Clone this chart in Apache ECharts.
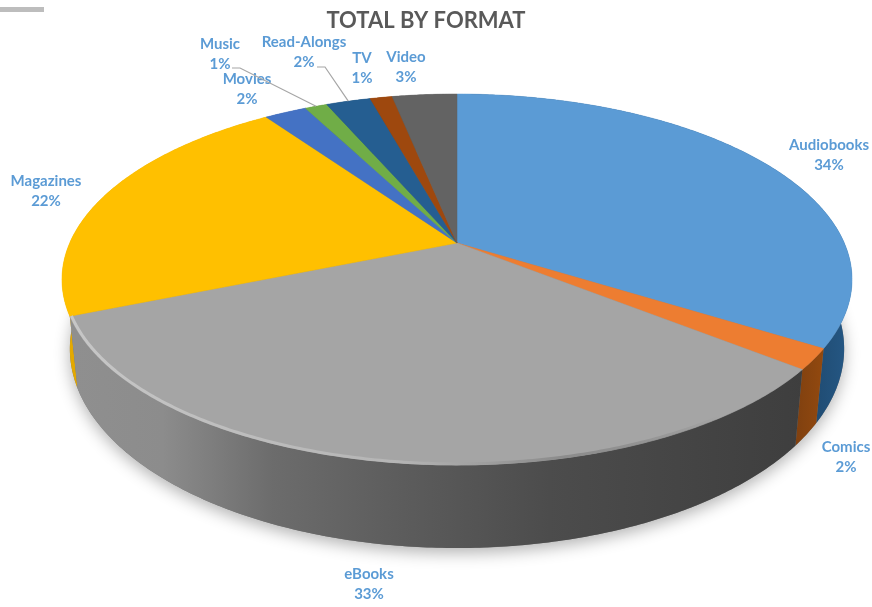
<!DOCTYPE html>
<html>
<head>
<meta charset="utf-8">
<style>html,body{margin:0;padding:0;background:#fff}#c{width:872px;height:607px;filter:blur(0.5px)}</style>
<script src="https://cdn.jsdelivr.net/npm/echarts@6/dist/echarts.min.js"></script>
</head>
<body>
<div id="c"></div>
<script>
const titleText = 'TOTAL BY FORMAT';
const categories = ['Audiobooks','Comics','eBooks','Magazines','Movies','Music','Read-Alongs','TV','Video'];
const values = [33.9,1.8,33.1,21.5,2.1,1.1,2.2,1.1,3.2];

const palette = ['#5b9bd5','#ed7d31','#a5a5a5','#ffc000','#4472c4','#70ad47','#255e91','#9e480e','#636363'];
const total = values.reduce((a,b)=>a+b,0);
const cum = [0]; values.forEach((v,i)=>cum.push(cum[i]+v));
const angleOf = p => p/total*Math.PI*2;

// perspective projection of the pie disc
const CX=457, CY=243, A=387.3, B=178.3, K=0.1968, WX=0.98, WY=1.074, WCY=309.6;
function topPt(t,r){ r=r==null?1:r; const u=r*Math.sin(t), v=r*Math.cos(t), d=1+K*v; return [CX+A*u/d, CY-B*v/d]; }
function bottomPt(t){ const p=topPt(t); return [CX+(p[0]-CX)*WX, WCY+(p[1]-CY)*WY]; }
function arc(fn,a0,a1){ const n=Math.max(2,Math.ceil((a1-a0)/0.01)); const o=[]; for(let i=0;i<=n;i++) o.push(fn(a0+(a1-a0)*i/n)); return o; }
const hGrad = (x0,x1,stops)=>({type:'linear',global:true,x:x0,y:0,x2:x1,y2:0,colorStops:stops.map(s=>({offset:s[0],color:s[1]}))});

const wallFill = [
  hGrad(810,855,[[0,'#1f4a70'],[1,'#265a88']]),
  hGrad(792,820,[[0,'#7d3f10'],[1,'#90480f']]),
  hGrad(75,805,[[0,'#8f8f8f'],[0.12,'#8c8c8c'],[0.27,'#6c6c6c'],[0.45,'#5c5c5c'],[0.65,'#4c4c4c'],[1,'#3e3e3e']]),
  hGrad(60,85,[[0,'#e8ae00'],[1,'#dfa400']]),
  '#2f5597','#507e32','#1b4469','#7a370a','#4a4a4a'
];
const wallOrder = [8,7,6,5,4,3,0,1,2];

function renderShadow(){
  const pts=arc(bottomPt,0,Math.PI*2);
  return {type:'polygon',shape:{points:pts},style:{fill:'#777',shadowBlur:16,shadowColor:'rgba(0,0,0,0.3)',shadowOffsetY:5}};
}
function renderWall(params,api){
  const i=api.value(0), a0=angleOf(cum[i]), a1=angleOf(cum[i+1]);
  const pts=arc(topPt,a0,a1).concat(arc(bottomPt,a0,a1).reverse());
  return {type:'polygon',shape:{points:pts},style:{fill:wallFill[i]}};
}
function renderTop(params,api){
  const i=api.value(0), a0=angleOf(cum[i]), a1=angleOf(cum[i+1]);
  const pts=[[CX,CY]].concat(arc(topPt,a0,a1));
  return {type:'polygon',shape:{points:pts},style:{fill:palette[i],stroke:palette[i],lineWidth:0.5}};
}
function renderBevel(params,api){
  const i=api.value(0);
  if(categories[i]!=='eBooks') return null;
  const a0=angleOf(cum[i]), a1=angleOf(cum[i+1]);
  const pts=arc(t=>topPt(t,0.996),a0,a1);
  return {type:'polyline',shape:{points:pts},style:{fill:null,lineWidth:3,
    stroke:hGrad(75,720,[[0,'#c6c6c6'],[0.5,'#b5b5b5'],[0.75,'#8c8c8c'],[1,'rgba(120,120,120,0)']])}};
}
const labelLayout = {
  'Audiobooks':[829,155],'Comics':[846,457],'eBooks':[369,584],'Magazines':[46,191],
  'Movies':[247,89],'Music':[220,54],'Read-Alongs':[304,52],'TV':[362,68],'Video':[406,67]
};
const leaderLayout = { 'Music':[[232,68],[240,68]], 'Read-Alongs':[[317,67],[325,67]] };
function renderLabel(params,api){
  const i=api.value(0), name=categories[i], c=labelLayout[name];
  const kids=[{type:'text',style:{x:c[0],y:c[1],text:name+'\n'+Math.round(values[i])+'%',align:'center',verticalAlign:'middle',
     fill:'#5b9bd5',font:'bold 15px Lato',lineHeight:20}}];
  if(leaderLayout[name]){
    const mid=angleOf((cum[i]+cum[i+1])/2);
    kids.unshift({type:'polyline',shape:{points:leaderLayout[name].concat([topPt(mid)])},style:{fill:null,stroke:'#a6a6a6',lineWidth:1.2}});
  }
  return {type:'group',children:kids};
}
const rows = values.map((v,i)=>({name:categories[i],value:[i,v]}));
const series=[
  {type:'custom',coordinateSystem:'none',silent:true,z:1,data:[rows[0]],renderItem:renderShadow},
  {type:'custom',coordinateSystem:'none',silent:true,z:2,data:wallOrder.map(i=>rows[i]),renderItem:renderWall},
  {type:'custom',coordinateSystem:'none',silent:true,z:3,data:rows,renderItem:renderTop},
  {type:'custom',coordinateSystem:'none',silent:true,z:4,data:rows,renderItem:renderBevel},
  {type:'custom',coordinateSystem:'none',silent:true,z:5,data:rows,renderItem:renderLabel}
];
const chart=echarts.init(document.getElementById('c'));
chart.setOption({
  animation:false,backgroundColor:'#fff',
  title:{text:titleText,left:421,top:5,textAlign:'center',textStyle:{fontFamily:'Lato',fontWeight:'bold',fontSize:22,color:'#595959'}},
  graphic:[{type:'rect',shape:{x:0,y:7,width:44,height:5},style:{fill:'#bdbdbd'}}],
  series
});
</script>
</body>
</html>
